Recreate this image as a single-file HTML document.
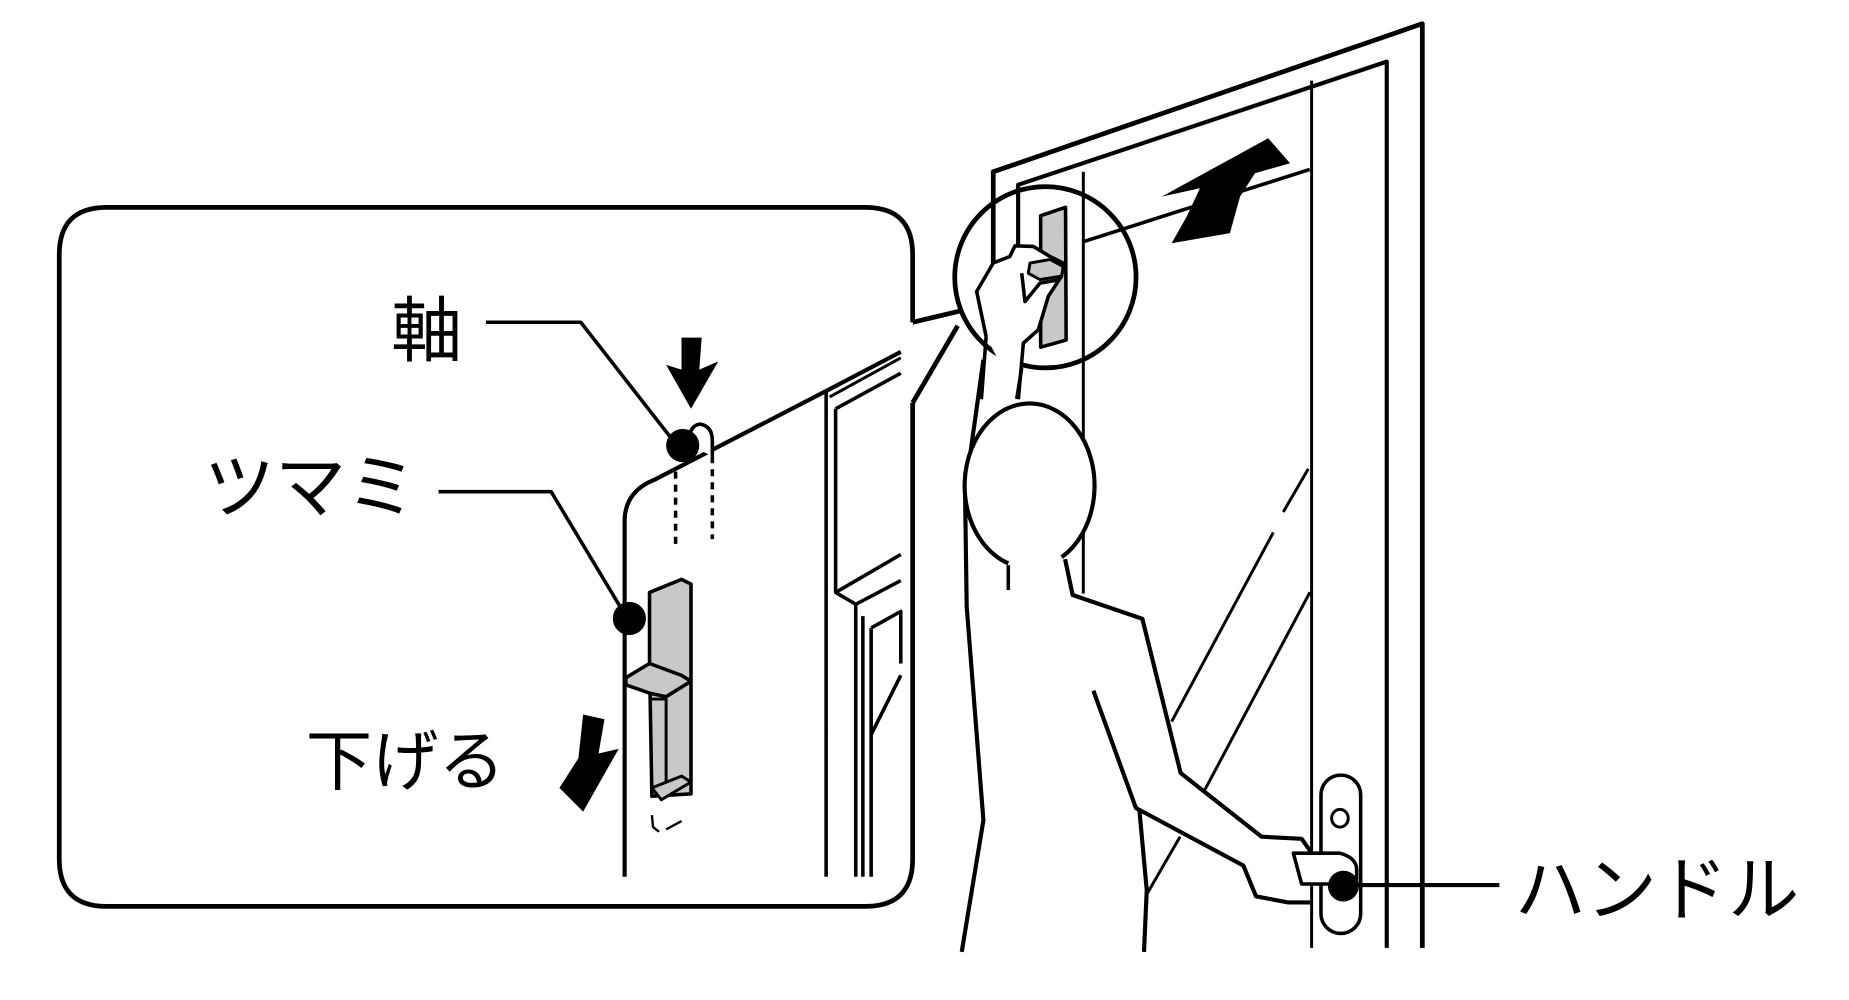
<!DOCTYPE html>
<html><head><meta charset="utf-8"><style>
html,body{margin:0;padding:0;background:#fff;}
svg{display:block}
text{font-family:"Liberation Sans","Noto Sans CJK JP",sans-serif;fill:#000}
</style></head><body>
<svg width="1849" height="1000" viewBox="0 0 1560 844" preserveAspectRatio="none" xmlns="http://www.w3.org/2000/svg">
<g fill="none" stroke="#000" stroke-width="3.5" stroke-linejoin="round">
<polyline points="838,222 838,145 1200,20 1200,800" stroke-width="4"/>
<polyline points="859,210 859,156 1170,52 1170,800" stroke-width="3.5"/>
<line x1="1106.6" y1="68" x2="1106.6" y2="800" stroke-width="2.5"/>
<line x1="914" y1="145" x2="914" y2="501" stroke-width="2.5"/>
<line x1="914" y1="204" x2="1105" y2="143" stroke-width="3"/>
<line x1="1103.8" y1="395.7" x2="1082.7" y2="432.1" stroke-width="2.5"/>
<line x1="1074.3" y1="449.4" x2="988.5" y2="609" stroke-width="2.5"/>
<line x1="1105.2" y1="499.8" x2="1016.7" y2="666.3" stroke-width="2.5"/>
<line x1="995.6" y1="706.2" x2="967.5" y2="754.8" stroke-width="2.5"/>
<path d="M770,272 L770,215 Q770,175 730,175 L90,175 Q50,175 50,215 L50,725 Q50,765 90,765 L730,765 Q770,765 770,725 L770,340" stroke-width="4"/>
<line x1="770" y1="272" x2="812" y2="262" stroke-width="4"/>
<line x1="770" y1="340" x2="808" y2="275" stroke-width="4"/>
<circle cx="882" cy="234" r="76.5" stroke-width="4"/>
<path d="M878,182 L899,175 L899.5,287 L878,293 Z" fill="#c8c8c8" stroke-width="3"/>
<path d="M832,284 L824,246 L838,222 L852,216.5 L856.3,207.5 L871.8,208 L885.9,216.5 L897,222 L895.7,233 L884.5,250 L876,278.4 L863.4,289.6 L859.2,337" fill="#fff" stroke-width="3"/>
<path d="M832,284 L828,337" stroke-width="3"/>
<path d="M869,222 L886,219 L897,225 L895.7,233 L877.4,236 L867.6,230.6 Z" fill="#c8c8c8" stroke-width="2.5"/>
<path d="M862,230.6 L864.8,254.5 L877.4,239 L894.3,236" stroke-width="3"/>
<polyline points="829.7,303.7 814.2,414.7 815.6,511.9 829.7,692.3 811.4,803.4" stroke-width="3.5"/>
<line x1="862" y1="310.6" x2="857.8" y2="336.7" stroke-width="3"/>
<path d="M850.7,475.5 A54.8,69.4 0 1 1 895.7,470.3" fill="#fff" stroke-width="3.5"/>
<line x1="850.7" y1="477" x2="850.7" y2="498" stroke-width="3"/>
<polyline points="898.6,472 905,502.2 963.8,522.3 996.1,652.4 1064.4,706.2 1098.2,708 1106.7,720" stroke-width="3.5"/>
<polyline points="922.5,583 958.4,682 1049,730.5 1059.7,756.5 1087,761.7 1105.2,761.7" stroke-width="3.5"/>
<polyline points="961.3,683.7 967.5,751.3 965.2,803.4" stroke-width="3.5"/>
<rect x="1114.5" y="654.2" width="33.5" height="133.6" rx="16.7" fill="#fff" stroke-width="3"/>
<ellipse cx="1130.5" cy="690.6" rx="7" ry="7.5" stroke-width="2.5"/>
<path d="M1091.2,720.1 L1130.5,720.1 Q1144.6,724 1144.6,734 L1144.6,746.1 L1098.2,746.1 Z" fill="#fff" stroke-width="3"/>
<line x1="1145" y1="747" x2="1265" y2="747" stroke-width="3.5"/>
<path d="M527,740 L527,440 Q527,415 552,405 L697,330 L760,297" stroke-width="3.5"/>
<path d="M697,330 L697,740 M705,345 L705,500 L722,510 L722,740 M728,520 L728,740 M735,530 L735,740 M705,345 L760,315 M705,500 L760,468 M722,510 L760,490 M735,530 L760,516 L760,560 M735,620 L760,570" stroke-width="3"/>
<line x1="700" y1="335" x2="760" y2="302" stroke-width="2.5"/>
<line x1="570" y1="398" x2="570" y2="460" stroke-width="3" stroke-dasharray="6,5"/>
<line x1="601" y1="385" x2="601" y2="455" stroke-width="3" stroke-dasharray="6,5"/>
<path d="M580,375 Q582,358 591,358 Q601,360 601,372 L601,385" fill="#fff" stroke-width="3"/>
<path d="M548,500 L575,489 L583,493 L583,670 L550,672 L548,560 Z" fill="#c8c8c8" stroke-width="3"/>
<path d="M528,572 L548,560 L575,570 L583,575 L562,588 L548,585 L528,578 Z" fill="#c8c8c8" stroke-width="3"/>
<path d="M548,590 L562,590 L562,670 M562,588 L583,575" stroke-width="2.5"/>
<path d="M550,665 L575,655 L583,660 L558,675 Z" fill="#c8c8c8" stroke-width="2.5"/>
<path d="M550,688 L551,698 L556,702 M562,700 L575,693" stroke-width="2"/>
<polyline points="410,272 490,272 568,372" stroke-width="3"/>
<polyline points="370,415 465,415 525,515" stroke-width="3"/>
</g>
<g fill="#000">
<circle cx="576" cy="376" r="14"/>
<circle cx="531" cy="522" r="14"/>
<circle cx="1133.4" cy="747.9" r="13"/>
<polygon points="575,285 592,285 590,312 606,305 583,345 562,308 575,312"/>
<polygon points="492,603 510,607 505,636 522,632 492,685 472,665 488,640"/>
<polygon points="988.5,205.3 1037.7,196.8 1046.2,166 1058.8,146.2 1088.4,137.8 1070,116.7 980.1,166 1012.4,158.9 1001.2,182.8"/>
</g>
<text x="330" y="300" font-size="60">軸</text>
<text x="172" y="432" font-size="60">ツマミ</text>
<text x="258" y="662" font-size="56">下げる</text>
<text x="1278" y="772" font-size="60">ハンドル</text>
</svg>
</body></html>
